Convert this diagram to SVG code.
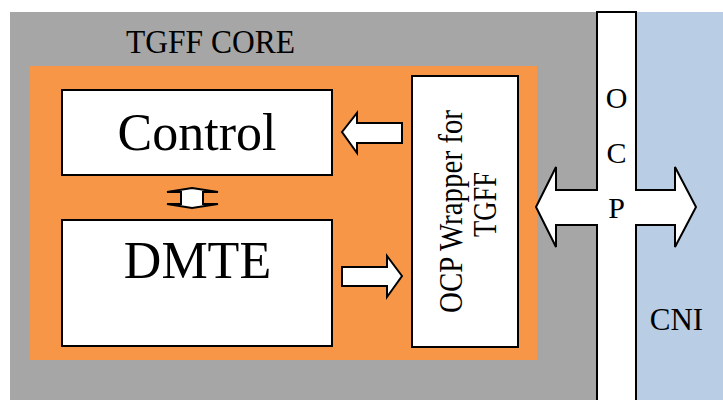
<svg xmlns="http://www.w3.org/2000/svg" width="723" height="400" viewBox="0 0 723 400">
  <style>
    .lbl { font-family: "Liberation Serif", "Times New Roman", serif; fill: #000; }
    .box { fill: #ffffff; stroke: #000; stroke-width: 2; }
    .arrow { fill: #ffffff; stroke: #000; stroke-width: 2; stroke-linejoin: miter; }
  </style>

  <!-- white page -->
  <rect x="0" y="0" width="723" height="400" fill="#ffffff"/>

  <!-- TGFF core region -->
  <g id="tgff-core">
    <rect x="10" y="12" width="587" height="388" fill="#a6a6a6"/>
    <text class="lbl" x="210.5" y="53" font-size="34" text-anchor="middle" textLength="169" lengthAdjust="spacingAndGlyphs">TGFF CORE</text>
  </g>

  <!-- CNI region -->
  <g id="cni">
    <rect x="636" y="12" width="87" height="388" fill="#b9cde5"/>
    <text class="lbl" x="676.5" y="330" font-size="31" text-anchor="middle">CNI</text>
  </g>

  <!-- orange inner block -->
  <g id="inner">
    <rect x="30" y="66" width="507" height="294" fill="#f79646"/>
  </g>

  <g id="control">
    <rect class="box" x="62" y="90" width="270" height="85"/>
    <text class="lbl" x="197" y="150" font-size="52" text-anchor="middle">Control</text>
  </g>

  <g id="dmte">
    <rect class="box" x="62" y="220" width="270" height="126"/>
    <text class="lbl" x="197.5" y="278" font-size="52" text-anchor="middle">DMTE</text>
  </g>

  <g id="ocp-wrapper">
    <rect class="box" x="412" y="76" width="106" height="271"/>
    <text class="lbl" transform="translate(462,211.5) rotate(-90)" x="0" y="0" font-size="33" text-anchor="middle" textLength="203" lengthAdjust="spacingAndGlyphs">OCP Wrapper for</text>
    <text class="lbl" transform="translate(496,204.5) rotate(-90)" x="0" y="0" font-size="33" text-anchor="middle" textLength="65" lengthAdjust="spacingAndGlyphs">TGFF</text>
  </g>

  <g id="ocp-bus">
    <rect class="box" x="597" y="12" width="39" height="392"/>
  </g>

  <!-- connectors -->
  <g id="connectors">
    <!-- wrapper to Control -->
    <polygon class="arrow" points="342,132 357,113 357,123 402,123 402,143 357,143 357,153"/>
    <!-- DMTE to wrapper -->
    <polygon class="arrow" points="402,276 387,256 387,267 342,267 342,286 387,286 387,297"/>
    <!-- Control <-> DMTE -->
    <polygon class="arrow" points="192,188 218,192 203,192 203,204 218,204 192,208 167,204 181,204 181,192 167,192"/>
    <!-- wrapper <-> CNI across the OCP bus -->
    <polygon class="arrow" points="536,207 556,167 556,190 675,190 675,167 696,207 675,247 675,225 556,225 556,247"/>
    <!-- open the junction where the arrow crosses the bus -->
    <rect x="598" y="188.5" width="37" height="38" fill="#ffffff"/>
    <rect x="595.5" y="191" width="42" height="33" fill="#ffffff"/>
  </g>

  <!-- bus letters -->
  <g id="ocp-letters">
    <text class="lbl" x="616.5" y="108" font-size="30" text-anchor="middle">O</text>
    <text class="lbl" x="616.5" y="163" font-size="30" text-anchor="middle">C</text>
    <text class="lbl" x="616.5" y="218" font-size="30" text-anchor="middle">P</text>
  </g>
</svg>
